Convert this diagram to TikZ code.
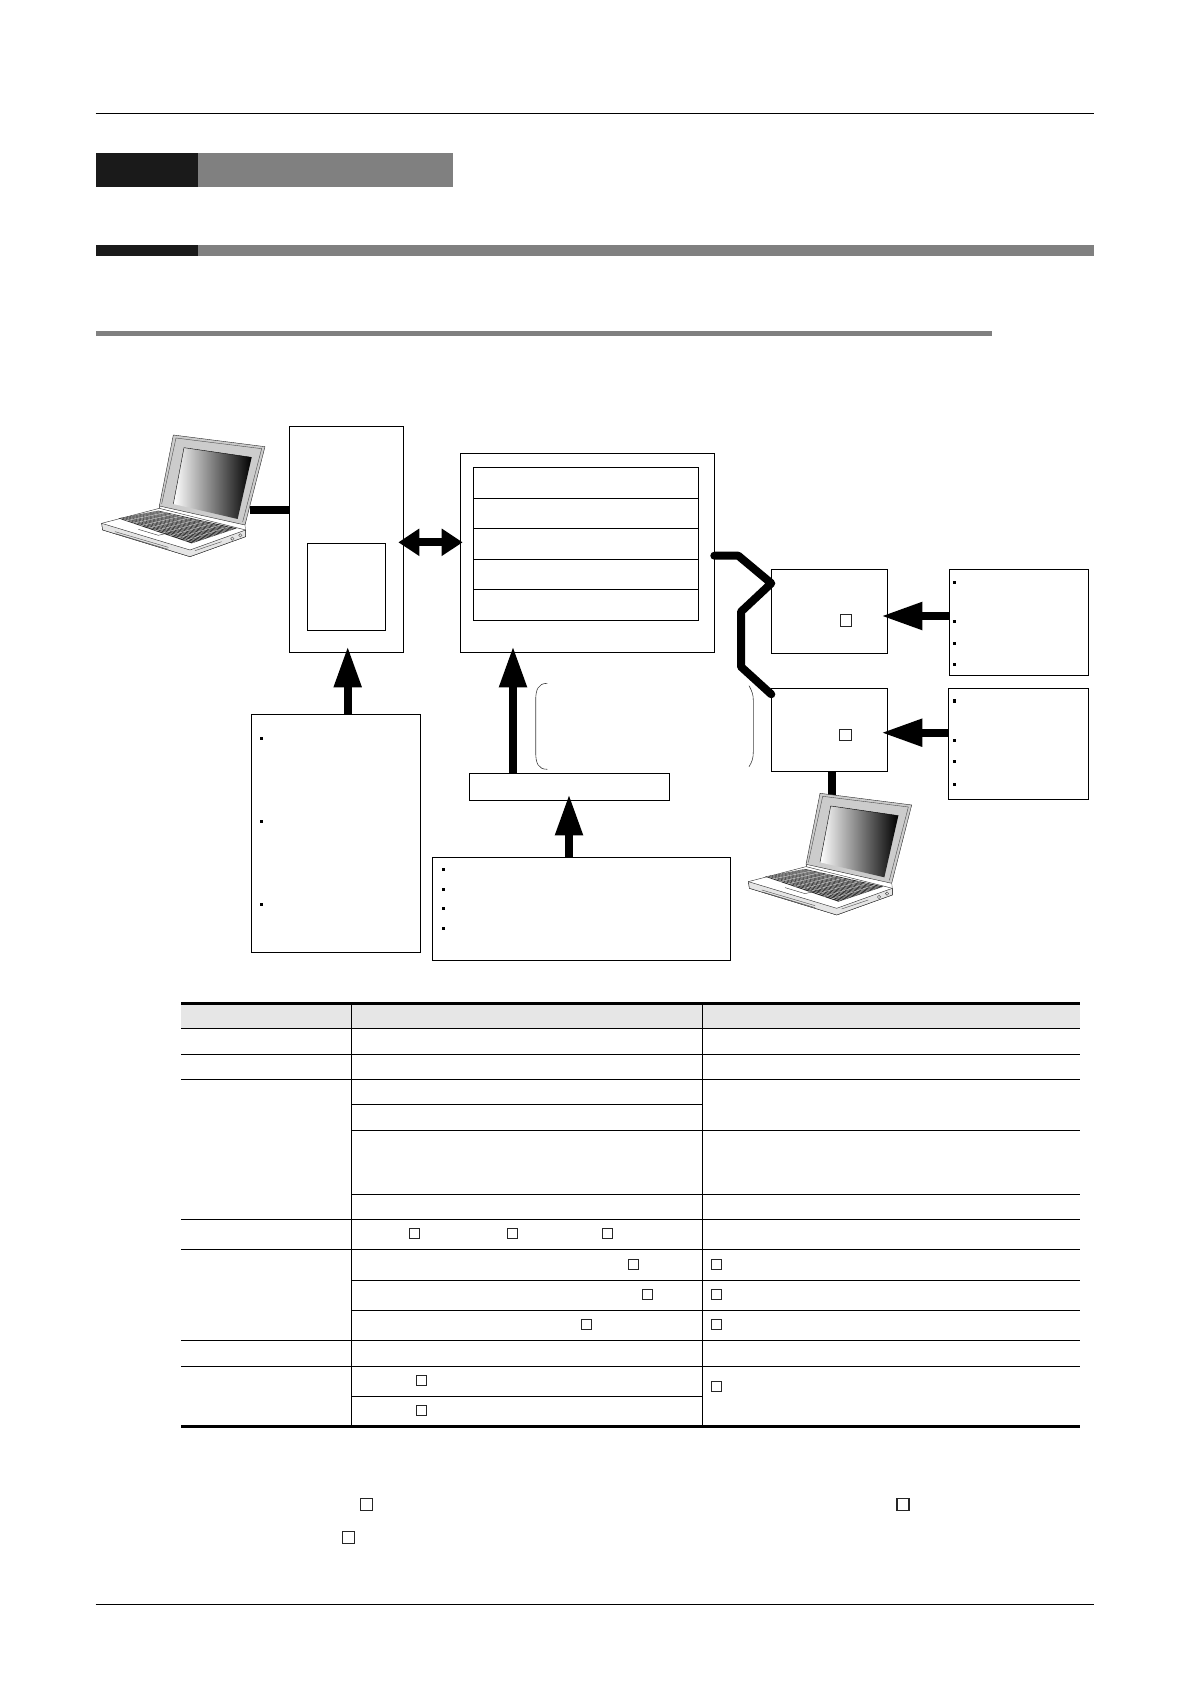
\documentclass[tikz,border=0pt]{standalone}
\usepackage{tikz}
\usetikzlibrary{arrows.meta,calc}
\definecolor{bandblack}{HTML}{1A1A1A}
\definecolor{bandgray}{HTML}{808080}
\definecolor{headgray}{HTML}{E6E6E6}
\definecolor{lidgray}{HTML}{CCCCCC}
\tikzset{>=Triangle}
\tikzstyle{box}=[rectangle,draw=black,fill=white,line width=1pt,inner sep=0pt,outer sep=0pt,anchor=north west]
\tikzstyle{tick}=[rectangle,fill=black,inner sep=0pt,minimum size=3.2pt]
\tikzstyle{check}=[rectangle,draw=black!85,fill=white,line width=1pt,inner sep=0pt,minimum size=10pt]
\tikzstyle{bigcheck}=[check,line width=1.2pt,minimum size=12pt]
\tikzstyle{link}=[line width=8pt]
\tikzstyle{feed}=[line width=8pt,-{Triangle[width=26pt,length=41pt]},shorten >=-6pt]
\tikzstyle{swap}=[line width=8pt,{Triangle[width=26pt,length=21pt]}-{Triangle[width=26pt,length=21pt]},shorten <=-5pt,shorten >=-2.4pt]
\tikzstyle{cable}=[line width=8pt,line cap=round,line join=round]
\tikzstyle{curve}=[black!75,line width=0.6pt]
\tikzstyle{rowline}=[black,line width=1pt]
\newcommand{\notebook}[2]{
\begin{scope}[shift={(#1,#2)},x=0.3333pt,y=-0.3333pt,line width=0.4pt]
\filldraw[fill=lidgray,draw=black!85] (235,15)--(510,50)--(450,285)--(193,228)--cycle;
\draw[black!70] (243,24)--(500,56)--(443,276);
\draw[black!70] (243,24)--(200,222);
\shade[left color=white,right color=black] (267,53)--(470,82)--(428,267)--(235,222)--cycle;
\draw[black] (235,222)--(267,53)--(470,82);
\filldraw[fill=white,draw=black!85] (20,280)--(193,235)--(452,300)--(452,320)--(285,380)--(23,300)--cycle;
\filldraw[fill=white!90!black,draw=black!85] (23,300)--(20,280)--(285,360)--(452,300)--(452,320)--(285,380)--cycle;
\fill[black!85] (70,265)--(190,242)--(425,295)--(290,340)--cycle;
\foreach \t in {0.1,0.2,...,0.9}
  \draw[white,line width=0.22pt] ($(70,265)!\t!(290,340)$)--($(190,242)!\t!(425,295)$);
\foreach \t in {0.05,0.1,...,0.96}
  \draw[white,line width=0.22pt] ($(70,265)!\t!(190,242)$)--($(290,340)!\t!(425,295)$);
\draw[black!80] (130,298)--(190,316)--(235,305);
\draw[black!70] (60,305)--(220,352);
\draw[black!70] (62,311)--(220,358);
\draw[black!70] (300,362)--(380,335);
\draw[black!60] (193,228)--(193,235);
\draw[black!60] (450,285)--(452,300);
\draw[black!70] (412,326) circle (5);
\draw[black!70] (436,316) circle (5);
\end{scope}
}
\begin{document}
\begin{tikzpicture}[x=1pt,y=-1pt]
\useasboundingbox (0,0) rectangle (1190,1684);
\draw[line width=1pt] (95.7,113) -- (1094,113);
\draw[line width=1pt] (95.7,1604.3) -- (1094,1604.3);
\fill[bandblack] (95.7,153) rectangle (198,187);
\fill[bandgray] (198,153) rectangle (453,187);
\fill[bandblack] (95.7,245) rectangle (198,256);
\fill[bandgray] (198,245) rectangle (1094,256);
\fill[bandgray] (95.7,331) rectangle (992,336);

\node[box,minimum width=114pt,minimum height=226pt] (pcbox) at (289.3,426.3) {};
\node[box,minimum width=78.4pt,minimum height=87pt] (unitbox) at (307.3,543.3) {};
\node[box,minimum width=254pt,minimum height=199pt] (panel) at (460.3,453.3) {};
\node[box,minimum width=225.4pt,minimum height=31pt] (slotA) at (473.3,467.3) {};
\node[box,minimum width=225.4pt,minimum height=30pt] (slotB) at (473.3,498.3) {};
\node[box,minimum width=225.4pt,minimum height=31pt] (slotC) at (473.3,528.3) {};
\node[box,minimum width=225.4pt,minimum height=30pt] (slotD) at (473.3,559.3) {};
\node[box,minimum width=225.4pt,minimum height=31pt] (slotE) at (473.3,589.3) {};
\node[box,minimum width=116pt,minimum height=84pt] (nodeA) at (771.3,569.3) {};
\node[box,minimum width=116pt,minimum height=83pt] (nodeB) at (771.3,688.3) {};
\node[box,minimum width=139pt,minimum height=105.7pt] (noteA) at (949.3,569.3) {};
\node[box,minimum width=140pt,minimum height=111pt] (noteB) at (948.3,688.3) {};
\node[box,minimum width=169pt,minimum height=238pt] (noteC) at (251.3,714.3) {};
\node[box,minimum width=200.4pt,minimum height=27pt] (inbox) at (469.3,773.3) {};
\node[box,minimum width=298.4pt,minimum height=103.3pt] (noteD) at (432.3,857) {};

\coordinate (pcA) at (250,510);
\coordinate (pcB) at (831.8,795);
\draw[link] (pcA) -- (pcbox.west |- pcA);
\draw[link] (nodeB.south -| pcB) -- (pcB);
\notebook{95}{430}
\notebook{741.7}{788.3}

\draw[swap] (pcbox.east |- 0,542.3) -- (panel.west |- 0,542.3);
\draw[feed] (noteC.north -| 347.7,0) -- (pcbox.south -| 347.7,0);
\draw[feed] (inbox.north -| 513,0) -- (panel.south -| 513,0);
\draw[feed] (noteD.north -| 569,0) -- (inbox.south -| 569,0);
\draw[feed] (noteA.west |- 0,616) -- (nodeA.east |- 0,616);
\draw[feed] (noteB.west |- 0,732.7) -- (nodeB.east |- 0,732.7);
\draw[cable] (panel.east |- 0,555.7) -- (738.3,555.7) -- (nodeA.west |- 0,583.3) -- (741,611.7) -- (741,666.7) -- (nodeB.west |- 0,694.3);

\draw[curve] (547.3,683.3) .. controls (538,683.3) and (535.7,690) .. (535.7,700) -- (535.7,752) .. controls (535.7,763) and (538,769.3) .. (547.3,769.3);
\draw[curve] (749,685.7) .. controls (752,691) and (753.3,695) .. (753.3,700) -- (753.3,752) .. controls (753.3,758) and (752,762) .. (749,766.7);

\foreach \y [count=\i] in {582.3,621.3,643.3,664.3}
  \node[tick] (bulletA\i) at (954.3,\y) {};
\foreach \y [count=\i] in {701,740.3,761.3,784.3}
  \node[tick] (bulletB\i) at (954.3,\y) {};
\foreach \y [count=\i] in {738.3,821.3,904.3}
  \node[tick] (bulletC\i) at (261.7,\y) {};
\foreach \y [count=\i] in {869.3,889.3,908.3,928.3}
  \node[tick] (bulletD\i) at (443.7,\y) {};

\fill[headgray] (181,1004) rectangle (1080,1028.3);
\foreach \y in {1028.3,1054.3,1079.3,1219.3,1249.3,1340.3,1366.3}
  \draw[rowline] (181,\y) -- (1080,\y);
\foreach \y in {1130.3,1194.3,1280.3,1310.3}
  \draw[rowline] (351.3,\y) -- (1080,\y);
\foreach \y in {1104.3,1396.3}
  \draw[rowline] (351.3,\y) -- (702.3,\y);
\draw[rowline] (351.3,1003.3) -- (351.3,1426.3);
\draw[rowline] (702.3,1003.3) -- (702.3,1426.3);
\draw[line width=3pt] (181,1003.3) -- (1080,1003.3);
\draw[line width=3pt] (181,1426.3) -- (1080,1426.3);

\foreach \x/\y [count=\i] in {414.7/1233.7,512.7/1233.7,607.3/1233.7,633/1264,647.7/1294.3,586.3/1324.3,421.3/1380,421.3/1410.3,716.7/1264,716.7/1294.3,716.7/1324.3,716.7/1386}
  \node[check] (mark\i) at (\x,\y) {};
\node[check,minimum size=11.5pt] (markA) at (846,620.5) {};
\node[check,minimum size=11.5pt] (markB) at (845.5,735.2) {};
\node[bigcheck] (noteMarkA) at (366.3,1504.3) {};
\node[bigcheck] (noteMarkB) at (348.3,1537.3) {};
\node[bigcheck] (noteMarkC) at (903,1504.3) {};
\end{tikzpicture}
\end{document}
